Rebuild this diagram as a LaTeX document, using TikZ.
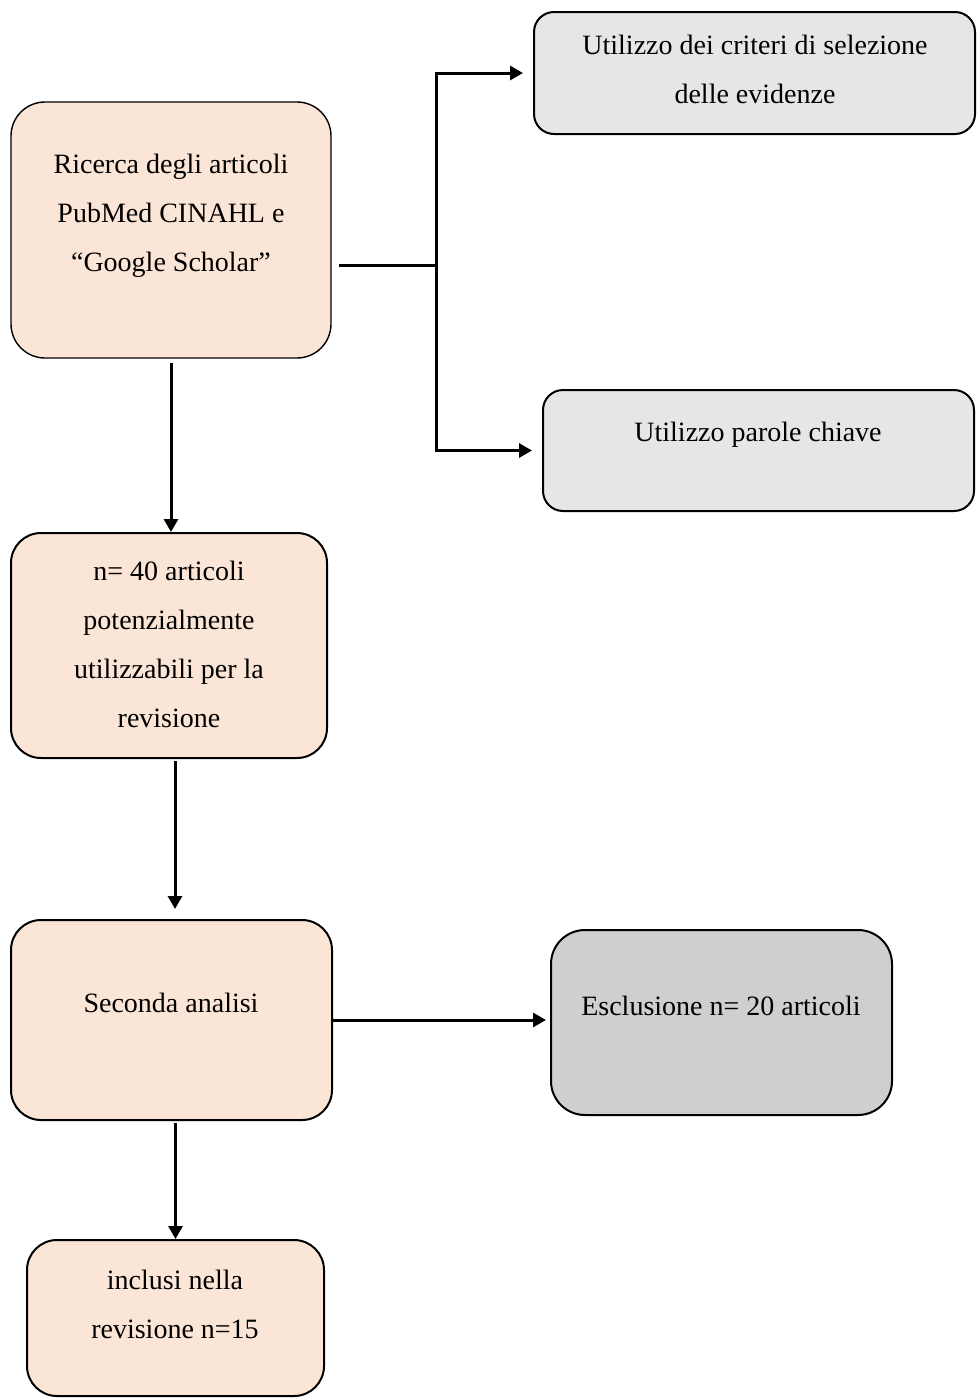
\documentclass[tikz,border=0pt]{standalone}
\usepackage{fontspec}
\setmainfont{Liberation Serif}
\usetikzlibrary{arrows.meta}
\definecolor{peachfill}{HTML}{FBE5D6}
\definecolor{greyfill}{HTML}{E7E6E6}
\definecolor{darkgreyfill}{HTML}{D0CECE}

\begin{document}
\begin{tikzpicture}[x=0.5pt,y=-0.5pt,
  box/.style={draw=black,line width=1pt,rounded corners=15pt,inner sep=0pt},
  peach/.style={box,fill=peachfill},
  grey/.style={box,fill=greyfill,rounded corners=10pt},
  txt/.style={align=center,font=\fontsize{14}{24.5}\selectfont,inner sep=0pt},
  link/.style={line width=1.5pt},
  arr/.style={link,-{Triangle[length=6.5pt,width=7pt]}}]
\useasboundingbox (0,0) rectangle (976,1398);

% boxes
\node[peach,line width=0.7pt,rounded corners=17pt,minimum width=160pt,minimum height=128pt] (search) at (171,230) {};
\node[txt] (searchtxt) at (171,215.5) {Ricerca degli articoli\\PubMed CINAHL e\\“Google Scholar”};

\node[grey,minimum width=220.5pt,minimum height=61pt] (criteria) at (754.5,73) {};
\node[txt] (criteriatxt) at (755,69) {Utilizzo dei criteri di selezione\\delle evidenze};

\node[grey,minimum width=215.5pt,minimum height=60.5pt] (keywords) at (758.5,450.5) {};
\node[txt] (keywordstxt) at (758,435) {Utilizzo parole chiave};

\node[peach,minimum width=158pt,minimum height=112.5pt] (found) at (169,645.5) {};
\node[txt] (foundtxt) at (169,644) {n= 40 articoli\\potenzialmente\\utilizzabili per la\\revisione};

\node[peach,minimum width=160.5pt,minimum height=100pt] (second) at (171.5,1020) {};
\node[txt] (secondtxt) at (171,1003) {Seconda analisi};

\node[box,fill=darkgreyfill,rounded corners=17pt,minimum width=170.5pt,minimum height=92.5pt] (excluded) at (721.5,1022.5) {};
\node[txt] (excludedtxt) at (721,1006) {Esclusione n= 20 articoli};

\node[peach,minimum width=148.5pt,minimum height=78pt] (included) at (175.5,1318) {};
\node[txt] (includedtxt) at (175,1304.5) {inclusi nella\\revisione n=15};

% connectors
\coordinate (fork) at (436,265);
\draw[link,shorten <=3.5pt] (search.east |- fork) -- (fork);
\draw[arr,shorten >=5pt] (fork) |- (criteria.west);
\draw[arr,shorten >=5pt] (fork) |- (keywords.west);
\draw[arr,shorten <=2pt] (search.south) -- (search.south |- found.north);
\draw[arr,shorten <=1pt,shorten >=5pt] ([xshift=3pt]found.south) -- ([xshift=3pt]found.south |- second.north);
\draw[arr,shorten >=2pt] (second.east) -- (second.east -| excluded.west);
\draw[arr,shorten <=1pt] (second.south -| included.north) -- (included.north);
\end{tikzpicture}
\end{document}
